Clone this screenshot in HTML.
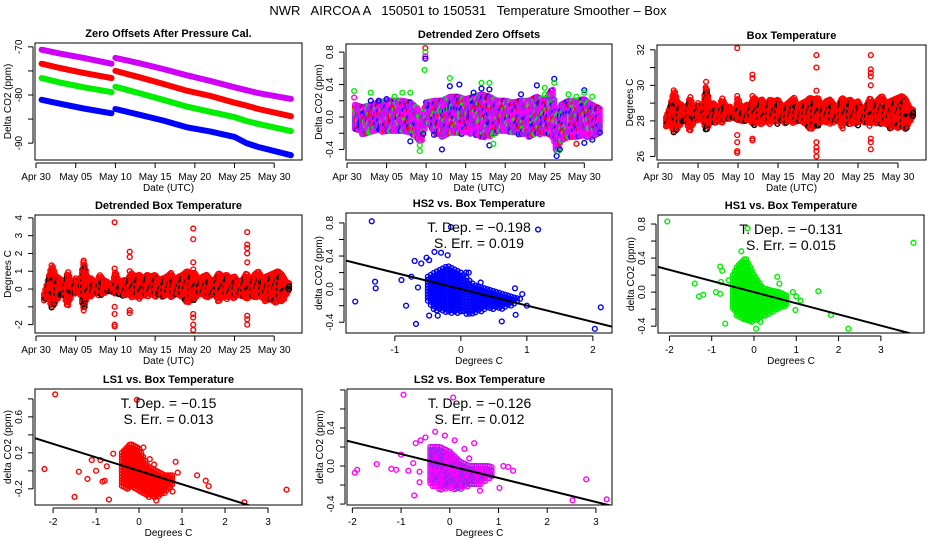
<!DOCTYPE html>
<html><head><meta charset="utf-8"><style>
html,body{margin:0;padding:0;background:#fff;}
svg{display:block;font-family:"Liberation Sans",Arial,sans-serif;}
</style></head><body>
<svg id="chart" width="936" height="540" viewBox="0 0 936 540" xmlns="http://www.w3.org/2000/svg">
<rect width="936" height="540" fill="#fff"/>
<text x="468" y="15" font-size="13" text-anchor="middle" xml:space="preserve">NWR   AIRCOA A   150501 to 150531   Temperature Smoother – Box</text>
</svg>
<script>
// ---------- data ----------
const dateTicks = [0,5,10,15,20,25,30];
const dateLabels = ["Apr 30","May 05","May 10","May 15","May 20","May 25","May 30"];

const zoDays = [0.7,3,6,9.5,10,13,16,19,22,25,26.5,28,32.1];
const zoMagenta = [-70.6,-71.4,-72.3,-73.5,-72.3,-73.4,-74.6,-75.9,-77.1,-78.4,-79.0,-79.6,-80.8];
const zoRed = [-73.5,-74.4,-75.4,-76.5,-75.0,-76.3,-77.7,-79.1,-80.2,-81.6,-82.2,-82.9,-84.4];
const zoGreen = [-76.5,-77.4,-78.4,-79.4,-78.3,-79.6,-81.0,-82.4,-83.5,-84.6,-85.4,-86.0,-87.5];
const zoBlue = [-81.0,-81.8,-82.8,-83.8,-82.9,-84.1,-85.3,-86.7,-87.6,-88.7,-90.0,-90.8,-92.5];

const dzDays = [1,2,3,4,5,6,7,8,9,9.5,10,11,12,13,14,15,16,17,18,19,20,21,22,23,24,25,26,26.5,27,28,29,30,31,32];
const dzLo = [-0.15,-0.22,-0.2,-0.18,-0.2,-0.18,-0.2,-0.22,-0.3,-0.32,-0.05,-0.2,-0.25,-0.2,-0.22,-0.2,-0.22,-0.25,-0.25,-0.2,-0.2,-0.2,-0.22,-0.25,-0.22,-0.22,-0.25,-0.45,-0.3,-0.25,-0.25,-0.25,-0.25,-0.2];
const dzHi = [0.15,0.12,0.15,0.18,0.2,0.2,0.2,0.18,0.1,0.0,0.18,0.2,0.2,0.25,0.25,0.22,0.25,0.28,0.25,0.2,0.2,0.18,0.2,0.2,0.25,0.2,0.35,0.0,0.15,0.2,0.2,0.22,0.15,0.1];
const dzOutDay = [0.9,0.9,3,3,4,5,6,7,8,8,9.2,9.2,9.9,9.9,9.9,9.9,9.8,11,12,13,13,14.2,16,17,17,18,18,18,18.5,22,24,25,25,26.2,26.2,26.5,26.7,26.9,28,29,29,30,30,30,31,31];
const dzOutVal = [0.32,0.24,0.3,0.2,0.2,0.22,0.25,0.3,0.3,-0.3,-0.42,-0.35,0.85,0.8,0.75,0.72,0.58,-0.22,-0.4,0.48,0.38,0.4,0.3,0.42,0.35,0.42,0.34,-0.35,-0.33,0.28,0.39,0.36,0.28,0.47,0.42,-0.48,-0.42,-0.4,0.28,0.25,-0.33,0.33,0.3,-0.32,0.25,-0.28];
const dzOutCol = ["g","m","g","b","b","b","g","g","g","b","g","g","r","g","m","b","g","b","b","g","b","b","b","g","b","g","b","b","g","b","b","g","g","b","g","b","g","b","g","g","r","b","g","b","g","b"];

const btDays = [1,1.5,2,2.5,3,3.5,4,4.5,5,5.5,6,6.5,7,7.5,8,8.5,9,9.5,10,10.5,11,11.5,12,12.5,13,13.5,14,14.5,15,15.5,16,16.5,17,17.5,18,18.5,19,19.5,20,20.5,21,21.5,22,22.5,23,23.5,24,24.5,25,25.5,26,26.5,27,27.5,28,28.5,29,29.5,30,30.5,31,31.5,32];
const btLo = [27.6,27.8,27.2,27.6,27.8,28,27.3,28,28,28.1,27.3,27.9,27.8,28,27.9,28,28.1,28.2,28,28,27.9,28,27.7,27.9,27.7,28,27.8,28,27.8,28,27.8,28,27.8,28,27.9,27.8,27.4,27.6,27.7,28,27.9,27.8,27.9,28,27.5,27.9,27.7,27.9,27.7,28,27.8,27.7,27.9,27.8,27.8,27.8,27.5,27.7,27.5,27.6,27.5,27.9,28.2];
const btHi = [28.2,28.8,29.8,29,28.9,28.5,29.4,28.6,29,28.6,30,28.9,29,28.5,29.3,28.8,28.8,28.4,29.3,28.6,28.9,28.9,29.3,29.1,29.2,28.9,29.2,29.1,29.2,28.8,28.9,29.1,29.3,28.8,29,29.1,29.3,29.2,29.3,28.8,29.1,29.2,28.9,28.8,29.3,29.1,29.2,29,29.1,28.7,28.8,29.3,28.9,29.2,29.4,29,29.1,29.2,29.3,29.4,29.2,28.7,28.6];
const btOutDay = [9.9,9.9,9.9,9.9,9.9,9.9,9.9,11.8,11.8,11.8,11.8,11.8,19.8,19.8,19.8,19.8,19.8,19.8,19.8,26.6,26.6,26.6,26.6,26.6,26.6,26.6,26.6,6,6,6];
const btOutVal = [32.1,29.4,29.2,27.2,26.8,26.3,26.2,30.6,30.4,29.4,27.0,26.9,31.7,31.0,29.7,26.8,26.5,26.3,26.0,31.7,30.9,30.7,30.5,30.0,27.0,26.8,26.4,30.2,29.8,29.4];

const dbLo = [-0.7,-0.5,-1.1,-0.7,-0.5,-0.3,-1.1,-0.3,-0.3,-0.2,-1.2,-0.4,-0.5,-0.3,-0.4,-0.3,-0.2,-0.1,-0.3,-0.3,-0.4,-0.3,-0.6,-0.4,-0.6,-0.3,-0.5,-0.3,-0.5,-0.3,-0.5,-0.3,-0.5,-0.3,-0.4,-0.5,-0.9,-0.7,-0.6,-0.3,-0.4,-0.5,-0.4,-0.3,-0.8,-0.4,-0.6,-0.4,-0.6,-0.3,-0.5,-0.6,-0.4,-0.5,-0.5,-0.5,-0.8,-0.6,-0.8,-0.7,-0.8,-0.4,-0.1];
const dbHi = [-0.3,0.5,1.4,0.7,0.6,0.2,1.0,0.3,0.6,0.3,1.6,0.6,0.6,0.2,0.8,0.5,0.4,0.1,1.0,0.3,0.5,0.5,0.9,0.7,0.8,0.6,0.8,0.7,0.8,0.5,0.6,0.7,0.9,0.5,0.7,0.8,1.0,0.9,0.9,0.5,0.7,0.8,0.5,0.5,0.9,0.7,0.8,0.6,0.7,0.4,0.5,0.9,0.5,0.8,1.0,0.6,0.7,0.8,0.9,1.0,0.8,0.4,0.3];
const dbOutDay = [9.9,9.9,9.9,9.9,9.9,9.9,9.9,9.9,11.8,11.8,11.8,11.8,11.8,19.8,19.8,19.8,19.8,19.8,19.8,19.8,19.8,26.6,26.6,26.6,26.6,26.6,26.6,26.6,26.6,6,6,6,6,6];
const dbOutVal = [3.75,1.15,0.8,0.5,-1.0,-1.4,-2.0,-2.1,2.1,1.8,1.0,-1.2,-1.35,3.4,2.8,1.5,1.1,-1.4,-1.6,-2.0,-2.3,3.2,2.5,2.3,2.0,1.5,-1.5,-1.7,-2.0,1.6,1.2,0.9,-1.0,-1.2];

const hs2CoreX = [-0.5,-0.4,-0.2,0,0.2,0.4,0.6,0.8,0.9];
const hs2CoreLo = [-0.15,-0.25,-0.3,-0.3,-0.3,-0.25,-0.25,-0.2,-0.15];
const hs2CoreHi = [0.15,0.2,0.28,0.2,0.05,0.0,-0.05,-0.1,-0.12];
const hs2X = [-1.35,-0.15,1.17,-1.6,-1.3,-1.29,-0.9,-0.83,-0.68,-0.7,-0.6,-0.52,-0.48,-0.4,-0.3,-0.2,0.3,0.82,0.83,0.93,0.62,2.12,2.03,-0.48,-0.35,0.08,0.12,1.0,-0.75,-0.65];
const hs2Y = [0.82,0.75,0.72,-0.15,0.09,0.01,0.11,-0.2,-0.42,0.34,0.31,0.38,0.35,0.45,0.44,0.41,0.08,0.01,-0.31,-0.06,-0.39,-0.22,-0.48,-0.32,-0.32,0.2,0.2,-0.2,0.15,0.02];
const hs2Slope = -0.198, hs2Int = 0.0;

const hs1CoreX = [-0.5,-0.4,-0.2,0,0.2,0.4,0.6,0.8];
const hs1CoreLo = [-0.2,-0.3,-0.35,-0.35,-0.3,-0.25,-0.2,-0.15];
const hs1CoreHi = [0.2,0.3,0.4,0.2,0.05,0.02,0.0,-0.05];
const hs1X = [-2.05,-0.15,3.77,-1.4,-1.3,-1.2,-0.9,-0.8,-0.8,-0.75,-0.78,-0.6,-0.68,-0.3,-0.1,0.05,0.15,0.55,0.6,0.92,0.98,1.1,1.52,1.82,2.23,1.0];
const hs1Y = [0.83,0.75,0.58,0.1,-0.05,-0.03,0.0,-0.02,0.3,0.25,0.12,0.14,-0.37,0.48,-0.32,-0.43,-0.35,0.18,0.1,0.0,-0.21,-0.1,0.01,-0.27,-0.43,-0.05];
const hs1Slope = -0.131, hs1Int = 0.0;

const ls1CoreX = [-0.4,-0.2,0,0.2,0.4,0.6,0.8];
const ls1CoreLo = [-0.2,-0.2,-0.25,-0.3,-0.3,-0.25,-0.15];
const ls1CoreHi = [0.2,0.3,0.25,0.05,0.0,-0.05,-0.05];
const ls1X = [-1.95,-0.05,-2.2,-1.5,-1.4,-1.2,-1.1,-1.0,-0.85,-0.8,-0.9,-0.75,-0.7,-0.6,-0.2,0.1,0.25,0.35,0.85,0.9,1.35,1.55,1.62,2.45,3.43,0.78,0.4];
const ls1Y = [0.85,0.79,0.02,-0.29,-0.01,-0.09,0.12,0.0,-0.12,-0.11,0.12,0.05,-0.32,0.19,0.24,0.26,0.13,0.07,0.1,-0.02,-0.05,-0.11,-0.17,-0.35,-0.21,-0.23,-0.33];
const ls1Slope = -0.15, ls1Int = 0.0;

const ls2CoreX = [-0.4,-0.2,0,0.2,0.4,0.6,0.8,0.9];
const ls2CoreLo = [-0.2,-0.25,-0.25,-0.25,-0.22,-0.2,-0.15,-0.12];
const ls2CoreHi = [0.2,0.2,0.15,0.05,0.0,0.0,0.0,-0.02];
const ls2X = [-0.95,0.07,-1.95,-1.9,-1.5,-1.2,-1.1,-1.0,-0.85,-0.75,-0.73,-0.62,-0.62,-0.7,-0.6,-0.5,-0.3,-0.1,0.1,0.3,0.5,0.4,0.62,1.02,1.1,1.2,1.3,2.52,2.8,3.22];
const ls2Y = [0.75,0.72,-0.07,-0.04,0.02,-0.03,-0.04,0.12,-0.05,0.03,-0.31,-0.06,-0.17,0.24,0.27,0.3,0.36,0.32,0.27,0.18,0.24,0.08,-0.26,-0.23,0.0,-0.01,-0.05,-0.36,-0.14,-0.35];
const ls2Slope = -0.126, ls2Int = 0.0;

// ---------- drawing helpers ----------
const NS = "http://www.w3.org/2000/svg";
const svg = document.getElementById("chart");
function el(tag, attrs, parent) {
  const e = document.createElementNS(NS, tag);
  for (const k in attrs) e.setAttribute(k, attrs[k]);
  (parent || svg).appendChild(e);
  return e;
}
function lin(d0, d1, r0, r1) { return v => r0 + (v - d0) * (r1 - r0) / (d1 - d0); }
function interp(xs, ys, x) {
  if (x <= xs[0]) return ys[0];
  for (let i = 1; i < xs.length; i++) if (x <= xs[i]) { const t = (x - xs[i-1]) / (xs[i] - xs[i-1]); return ys[i-1] + t * (ys[i] - ys[i-1]); }
  return ys[ys.length - 1];
}
const COL = {r:"#ff0000", g:"#00ee00", b:"#0000ff", m:"#ff00ff", p:"#a020f0"};

function panel(name, L, T, R, B, xd, yd, title, xTicks, xLabels, yTicks, yLabels, xTitle, yTitle) {
  const g = el("g", {});
  
  
  const sx = lin(xd[0], xd[1], L, R), sy = lin(yd[0], yd[1], B, T);
  const t = el("text", {x:(L+R)/2, y:T-6, "font-size":11, "font-weight":"bold", "text-anchor":"middle"}, g);
  t.textContent = title;
  
  
  const clip = el("clipPath", {id:"clip-"+name}, g);
  el("rect", {x:L, y:T, width:R-L, height:B-T}, clip);
  const plot = el("g", {"clip-path":"url(#clip-"+name+")"}, g);
  
  
  const xa = el("g", {stroke:"#000", "stroke-width":1}, g);
  
  
  el("line", {x1:sx(xTicks[0]), x2:sx(xTicks[xTicks.length-1]), y1:B+3, y2:B+3}, xa);
  xTicks.forEach((v, i) => {
    el("line", {x1:sx(v), x2:sx(v), y1:B+3, y2:B+8}, xa);
    const lt = el("text", {x:sx(v), y:B+20, "font-size":10, "text-anchor":"middle", stroke:"none"}, xa);
    lt.textContent = xLabels[i];
    
    
  });
  const xt = el("text", {x:(L+R)/2, y:B+31, "font-size":10, "text-anchor":"middle"}, g);
  xt.textContent = xTitle;
  
  
  const ya = el("g", {stroke:"#000", "stroke-width":1}, g);
  
  
  el("line", {x1:L-2, x2:L-2, y1:sy(yTicks[0]), y2:sy(yTicks[yTicks.length-1])}, ya);
  yTicks.forEach((v, i) => {
    el("line", {x1:L-7, x2:L-2, y1:sy(v), y2:sy(v)}, ya);
    if (yLabels[i] !== "") {
      const lt = el("text", {x:0, y:0, "font-size":10, "text-anchor":"middle", stroke:"none", transform:"translate("+(L-13)+","+sy(v)+") rotate(-90)"}, ya);
      lt.textContent = yLabels[i];
      
      
    }
  });
  const yt = el("text", {x:0, y:0, "font-size":10, "text-anchor":"middle", transform:"translate("+(L-24)+","+((T+B)/2)+") rotate(-90)"}, g);
  yt.textContent = yTitle;
  
  
  const box = el("rect", {x:L, y:T, width:R-L, height:B-T, fill:"none", stroke:"#000", "stroke-width":1}, g);
  
  
  return {g, plot, sx, sy, L, T, R, B};
}
function circ(parent, x, y, color, name) {
  const c = el("circle", {cx:x, cy:y, r:2.4, fill:"none", stroke:color, "stroke-width":1.4}, parent);
  
  
  return c;
}
function band(p, xs, los, his, stepX, colors, name) {
  const x0 = xs[0], x1 = xs[xs.length-1];
  let col = 0;
  for (let x = x0; x <= x1 + 1e-9; x += stepX) {
    const y0 = p.sy(interp(xs, los, x)), y1 = p.sy(interp(xs, his, x));
    let row = 0;
    for (let py = y1; py <= y0 + 0.01; py += 3) {
      const idx = (col * 5 + row * 3 + ((col * row) % 7)) % colors.length;
      circ(p.plot, p.sx(x), py, colors[idx], name);
      row++;
    }
    col++;
  }
}
function annot(p, dep, err) {
  const cx = (p.L + p.R) / 2;
  const a = el("text", {x:cx, y:p.T+19, "font-size":14, "text-anchor":"middle"}, p.g);
  a.textContent = "T. Dep. =  " + dep;
  
  
  const b = el("text", {x:cx, y:p.T+35, "font-size":14, "text-anchor":"middle"}, p.g);
  b.textContent = "S. Err. =  " + err;
  
  
}
function regLine(p, xd, slope, icpt) {
  const l = el("line", {x1:p.sx(xd[0]), y1:p.sy(icpt + slope*xd[0]), x2:p.sx(xd[1]), y2:p.sy(icpt + slope*xd[1]), stroke:"#000", "stroke-width":2}, p.plot);
  
  
}

const dayDom = [-0.13, 33.5];

const p1 = panel("zero-offsets-panel", 35, 43, 302, 160, dayDom, [-93.5, -69.2], "Zero Offsets After Pressure Cal.",
  dateTicks, dateLabels, [-90,-85,-80,-75,-70], ["-90","","-80","","-70"], "Date (UTC)", "Delta CO2 (ppm)");
[[zoBlue,"#0000ff","series-hs2"],[zoGreen,"#00ee00","series-hs1"],[zoRed,"#ff0000","series-ls1"],[zoMagenta,"#d000f8","series-ls2"]].forEach(([vals, col, nm]) => {
  let d = "";
  for (let i = 0; i < zoDays.length; i++) {
    if (i > 0 && zoDays[i] - zoDays[i-1] < 1 && Math.abs(vals[i]-vals[i-1]) > 0.8) d += " M";
    else d += i === 0 ? "M" : " L";
    d += p1.sx(zoDays[i]).toFixed(1) + "," + p1.sy(vals[i]).toFixed(1);
  }
  const path = el("path", {d, fill:"none", stroke:col, "stroke-width":6, "stroke-linecap":"round", "stroke-linejoin":"round"}, p1.plot);
  
  
});

const p2 = panel("detrended-zero-offsets-panel", 346, 44, 612, 160, dayDom, [-0.53, 0.9], "Detrended Zero Offsets",
  dateTicks, dateLabels, [-0.4,-0.2,0,0.2,0.4,0.6,0.8], ["-0.4","","0.0","","0.4","","0.8"], "Date (UTC)", "Delta CO2 (ppm)");
band(p2, dzDays, dzLo, dzHi, 0.18, [COL.m, COL.p, COL.m, COL.r, COL.p, COL.m, COL.g, COL.p, COL.b, COL.m, COL.p], "offset-point");
dzOutDay.forEach((d, i) => circ(p2.plot, p2.sx(d), p2.sy(dzOutVal[i]), COL[dzOutCol[i]], "offset-outlier"));

const p3 = panel("box-temperature-panel", 657, 45, 926, 160, dayDom, [25.8, 32.27], "Box Temperature",
  dateTicks, dateLabels, [26,27,28,29,30,31,32], ["26","","28","","30","","32"], "Date (UTC)", "Degrees C");
band(p3, btDays, btLo, btHi, 0.16, ["#ff0000", "#ff0000", "#000000", "#ff0000", "#ff0000"], "temperature-point");
btOutDay.forEach((d, i) => circ(p3.plot, p3.sx(d), p3.sy(btOutVal[i]), "#ff0000", "temperature-outlier"));

const p4 = panel("detrended-box-temperature-panel", 35, 215, 302, 333, dayDom, [-2.47, 4.16], "Detrended Box Temperature",
  dateTicks, dateLabels, [-2,-1,0,1,2,3,4], ["-2","","0","1","2","3","4"], "Date (UTC)", "Degrees C");
band(p4, btDays, dbLo, dbHi, 0.16, ["#ff0000", "#ff0000", "#000000", "#ff0000", "#ff0000"], "detrended-temperature-point");
dbOutDay.forEach((d, i) => circ(p4.plot, p4.sx(d), p4.sy(dbOutVal[i]), "#ff0000", "detrended-temperature-outlier"));

function scatter(name, L, T, R, B, xd, yd, title, xTicks, yTicks, yLabels, coreX, coreLo, coreHi, xs, ys, colors, slope, icpt, dep, err) {
  const p = panel(name, L, T, R, B, xd, yd, title, xTicks, xTicks.map(String), yTicks, yLabels, "Degrees C", "delta CO2 (ppm)");
  band(p, coreX, coreLo, coreHi, 0.045, colors, "scatter-point");
  xs.forEach((x, i) => circ(p.plot, p.sx(x), p.sy(ys[i]), colors[0], "scatter-point"));
  regLine(p, xd, slope, icpt);
  annot(p, dep, err);
}
const yT = [-0.4,-0.2,0,0.2,0.4,0.6,0.8];
scatter("hs2-scatter-panel", 346, 213, 612, 333, [-1.74, 2.29], [-0.53, 0.92], "HS2 vs. Box Temperature",
  [-1,0,1,2], yT, ["-0.4","","0.0","","0.4","","0.8"], hs2CoreX, hs2CoreLo, hs2CoreHi, hs2X, hs2Y, ["#0000ff"], hs2Slope, hs2Int, "\u2212" + "0.198", "0.019");
scatter("hs1-scatter-panel", 658, 215, 924, 333, [-2.27, 4.02], [-0.48, 0.906], "HS1 vs. Box Temperature",
  [-2,-1,0,1,2,3], yT, ["-0.4","","0.0","","0.4","","0.8"], hs1CoreX, hs1CoreLo, hs1CoreHi, hs1X, hs1Y, ["#00ee00"], hs1Slope, hs1Int, "\u2212" + "0.131", "0.015");
scatter("ls1-scatter-panel", 35, 389, 302, 505, [-2.42, 3.79], [-0.38, 0.91], "LS1 vs. Box Temperature",
  [-2,-1,0,1,2,3], [-0.2,0,0.2,0.4,0.6,0.8], ["-0.2","","0.2","","0.6",""], ls1CoreX, ls1CoreLo, ls1CoreHi, ls1X, ls1Y, ["#ff0000"], ls1Slope, ls1Int, "\u2212" + "0.15", "0.013");
scatter("ls2-scatter-panel", 347, 389, 612, 505, [-2.11, 3.33], [-0.41, 0.81], "LS2 vs. Box Temperature",
  [-2,-1,0,1,2,3], [-0.4,-0.2,0,0.2,0.4,0.6,0.8], ["-0.4","","0.0","","0.4","",""], ls2CoreX, ls2CoreLo, ls2CoreHi, ls2X, ls2Y, ["#ff00ff","#a020f0"], ls2Slope, ls2Int, "\u2212" + "0.126", "0.012");
</script>
</body></html>
